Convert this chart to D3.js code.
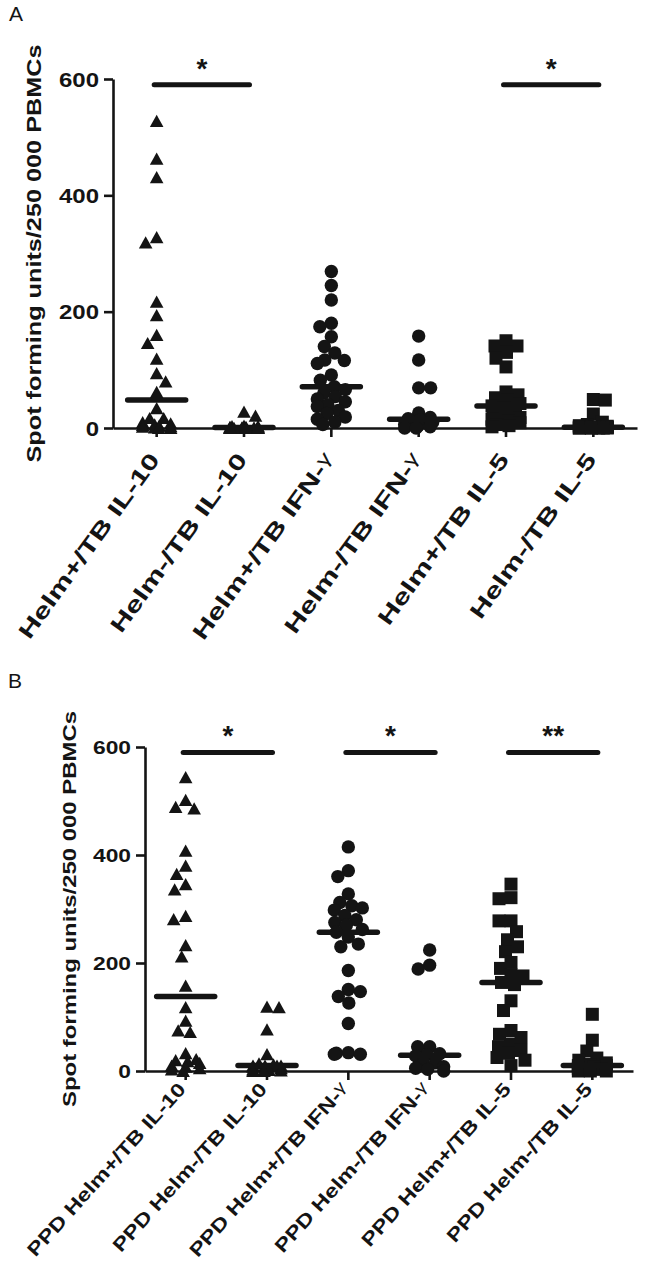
<!DOCTYPE html>
<html>
<head>
<meta charset="utf-8">
<script src="https://cdn.jsdelivr.net/npm/d3@7"></script>
<style>
  html, body { margin: 0; padding: 0; background: #fff; }
  svg { display: block; }
</style>
</head>
<body>
<div id="chart"></div>
<script>
// ---------------- DATA ----------------
const categoriesA = ["Helm+/TB IL-10", "Helm-/TB IL-10", "Helm+/TB IFN-γ", "Helm-/TB IFN-γ", "Helm+/TB IL-5", "Helm-/TB IL-5"];
const categoriesB = ["PPD Helm+/TB IL-10", "PPD Helm-/TB IL-10", "PPD Helm+/TB IFN-γ", "PPD Helm-/TB IFN-γ", "PPD Helm+/TB IL-5", "PPD Helm-/TB IL-5"];

// Panel A values (spot forming units / 250 000 PBMCs)
const helmPosIL10A = [528, 463, 431, 328, 319, 217, 194, 160, 146, 119, 94, 80, 62, 34, 17, 17, 10, 8, 6, 5, 4, 3, 2, 1, 0, 0];
const helmNegIL10A = [28, 21, 4, 3, 3, 2, 2, 2, 1, 1, 1, 1, 0, 0, 0, 0, 0, 0, 0, 0];
const helmPosIFNA = [269, 245, 220, 180, 174, 157, 140, 129, 117, 116, 111, 91, 82, 71, 66, 60, 54, 50, 45, 40, 37, 30, 25, 19, 15, 10, 6];
const helmNegIFNA = [158, 117, 69, 69, 26, 18, 16, 14, 10, 6, 4, 2, 0, 0];
const helmPosIL5A = [150, 141, 141, 130, 120, 105, 62, 57, 52, 48, 42, 38, 35, 30, 26, 22, 18, 15, 12, 9, 6, 4, 2];
const helmNegIL5A = [49, 48, 24, 10, 6, 4, 3, 2, 2, 1, 1, 0, 0, 0, 0, 0, 0, 0];

// Panel B values (PPD stimulated)
const helmPosIL10B = [544, 502, 489, 486, 408, 380, 365, 346, 336, 287, 281, 233, 212, 158, 118, 93, 75, 72, 33, 22, 20, 18, 15, 10, 8, 5, 3, 0];
const helmNegIL10B = [119, 118, 77, 31, 14, 12, 10, 10, 10, 10, 8, 6, 5, 3, 2, 1, 0, 0];
const helmPosIFNB = [415, 371, 360, 328, 312, 306, 302, 298, 288, 280, 275, 270, 262, 257, 248, 235, 230, 186, 151, 147, 138, 126, 88, 34, 33, 31, 31];
const helmNegIFNB = [224, 196, 189, 45, 45, 32, 30, 28, 15, 15, 8, 5, 3, 0];
const helmPosIL5B = [346, 321, 319, 278, 278, 258, 243, 230, 221, 201, 190, 178, 176, 164, 160, 130, 112, 75, 68, 62, 50, 45, 38, 33, 25, 20, 10];
const helmNegIL5B = [105, 57, 37, 24, 20, 15, 12, 10, 10, 8, 5, 3, 2, 0, 0, 0];

const markerShapes = ["triangle", "triangle", "circle", "circle", "square", "square"];
const yTickValues = [0, 200, 400, 600];
const significanceA = [{ from: 0, to: 1, label: "*" }, { from: 4, to: 5, label: "*" }];
const significanceB = [{ from: 0, to: 1, label: "*" }, { from: 2, to: 3, label: "*" }, { from: 4, to: 5, label: "**" }];
const yLabel = "Spot forming units/250 000 PBMCs";

// ---------------- LAYOUT ----------------
const W = 654, H = 1278;
const FONT = "'Liberation Sans', Arial, Helvetica, sans-serif";
const INK = "#141414";

const svg = d3.select("#chart").append("svg").attr("width", W).attr("height", H);
svg.append("rect").attr("width", W).attr("height", H).attr("fill", "#fff");

const panels = [
  { letter: "A", letterX: 9, letterY: 21, cats: categoriesA,
    values: [helmPosIL10A, helmNegIL10A, helmPosIFNA, helmNegIFNA, helmPosIL5A, helmNegIL5A],
    sig: significanceA, left: 113, right: 637, y0: 428, yTop: 79,
    tickFont: 20, yLabelFont: 20, yLabelX: 41, yLabelLen: 418,
    xLabelFont: 22, xLabelScale: 1.4, xLabelAngle: 54, xLabelDX: 4, xLabelDY: 32 },
  { letter: "B", letterX: 8, letterY: 688, cats: categoriesB,
    values: [helmPosIL10B, helmNegIL10B, helmPosIFNB, helmNegIFNB, helmPosIL5B, helmNegIL5B],
    sig: significanceB, left: 145, right: 633, y0: 1071, yTop: 747,
    tickFont: 19, yLabelFont: 19, yLabelX: 76, yLabelLen: 396,
    xLabelFont: 19, xLabelScale: 1.24, xLabelAngle: 48, xLabelDX: 1, xLabelDY: 19 }
];

function swarm(vals, y, maxOff, size) {
  const placed = [];
  vals.forEach((v, i) => {
    const py = y(v);
    const sign = i % 2 === 0 ? 1 : -1;
    let best = 0, bestCost = Infinity;
    for (let k = 0; k <= maxOff * 2; k++) {
      const o = (k % 2 === 0 ? 1 : -1) * sign * Math.ceil(k / 2) * 0.5;
      let ov = 0;
      for (const p of placed) {
        const d = Math.hypot(o - p.o, py - p.y);
        if (d < size) ov += size - d;
      }
      const cost = ov * 100 + Math.abs(o);
      if (cost < bestCost - 1e-9) { bestCost = cost; best = o; }
    }
    placed.push({ o: best, y: py, v });
  });
  return placed;
}

function drawMarker(g, shape, x, y) {
  if (shape === "triangle") {
    g.append("path").attr("d", `M${x},${y - 6.2}L${x + 6.8},${y + 6}L${x - 6.8},${y + 6}Z`).attr("fill", INK);
  } else if (shape === "circle") {
    g.append("circle").attr("cx", x).attr("cy", y).attr("r", 6.7).attr("fill", INK);
  } else {
    g.append("rect").attr("x", x - 6.5).attr("y", y - 6.5).attr("width", 13).attr("height", 13).attr("fill", INK);
  }
}

panels.forEach(p => {
  const g = svg.append("g");
  const x = d3.scaleBand().domain(p.cats).range([p.left, p.right]);
  const cx = c => x(c) + x.bandwidth() / 2;
  const y = d3.scaleLinear().domain([0, 600]).range([p.y0, p.yTop]);

  // panel letter
  g.append("text").attr("x", p.letterX).attr("y", p.letterY).text(p.letter)
    .attr("font-family", FONT).attr("font-size", 21).attr("fill", INK);

  // y axis
  const ya = g.append("g").attr("transform", `translate(${p.left},0)`)
    .call(d3.axisLeft(y).tickValues(yTickValues).tickSize(9).tickSizeOuter(0));
  ya.select(".domain").attr("stroke", INK).attr("stroke-width", 2.6);
  ya.selectAll(".tick line").attr("stroke", INK).attr("stroke-width", 2.6);
  ya.selectAll(".tick text").attr("x", null).attr("dy", "0.36em")
    .attr("transform", "translate(-14,0) scale(1.2,1)")
    .attr("font-family", FONT).attr("font-size", p.tickFont).attr("font-weight", "bold").attr("fill", INK);

  // x axis
  const xa = g.append("g").attr("transform", `translate(0,${p.y0})`)
    .call(d3.axisBottom(x).tickSize(9).tickSizeOuter(0).tickFormat(""));
  xa.select(".domain").attr("stroke", INK).attr("stroke-width", 2.6);
  xa.selectAll(".tick line").attr("stroke", INK).attr("stroke-width", 2.6);

  // x labels
  p.cats.forEach(c => {
    const t = g.append("text")
      .attr("transform", `translate(${cx(c) + p.xLabelDX},${p.y0 + p.xLabelDY}) rotate(${-p.xLabelAngle}) scale(${p.xLabelScale},1)`)
      .attr("text-anchor", "end").attr("font-family", FONT).attr("font-size", p.xLabelFont)
      .attr("font-weight", "bold").attr("fill", INK);
    if (c.includes("γ")) {
      t.append("tspan").text(c.replace("γ", ""));
      t.append("tspan").text("γ").attr("font-weight", "normal").attr("font-size", p.xLabelFont * 0.85)
        .attr("dy", -4);
    } else {
      t.text(c);
    }
  });

  // y label
  g.append("text")
    .attr("transform", `translate(${p.yLabelX},${(p.y0 + p.yTop) / 2}) rotate(-90)`)
    .attr("text-anchor", "middle").attr("font-family", FONT).attr("font-size", p.yLabelFont)
    .attr("font-weight", "bold").attr("fill", INK)
    .attr("textLength", p.yLabelLen).attr("lengthAdjust", "spacingAndGlyphs")
    .text(yLabel);

  // points
  p.values.forEach((vals, i) => {
    const c = p.cats[i];
    const placed = swarm(vals, y, 28, 12);
    const pg = g.append("g");
    placed.forEach(pt => drawMarker(pg, markerShapes[i], cx(c) + pt.o, pt.y));
    const med = d3.median(vals);
    g.append("line").attr("x1", cx(c) - 29).attr("x2", cx(c) + 29)
      .attr("y1", y(med)).attr("y2", y(med))
      .attr("stroke", INK).attr("stroke-width", 5.5).attr("stroke-linecap", "round");
  });

  // significance bars
  p.sig.forEach(s => {
    const x1 = cx(p.cats[s.from]) - 2.5, x2 = cx(p.cats[s.to]) + 5.5;
    const by = y(590);
    g.append("line").attr("x1", x1).attr("x2", x2).attr("y1", by).attr("y2", by)
      .attr("stroke", INK).attr("stroke-width", 5).attr("stroke-linecap", "round");
    g.append("text").attr("x", (x1 + x2) / 2).attr("y", by - 7).attr("text-anchor", "middle")
      .attr("font-family", FONT).attr("font-size", 28).attr("font-weight", "bold").attr("fill", INK)
      .text(s.label);
  });
});
</script>
</body>
</html>
